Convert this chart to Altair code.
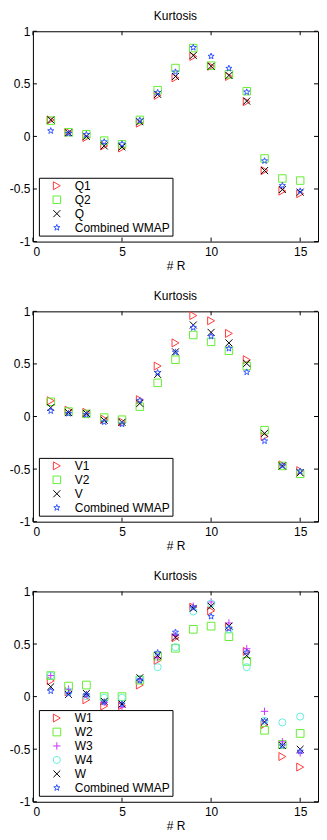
import altair as alt
import pandas as pd

# ---------------- data ----------------
R = list(range(1, 16))
X_TICKS = [0, 5, 10, 15]
Y_TICKS = [-1, -0.5, 0, 0.5, 1]

COMBINED = [0.053, 0.028, 0.018, -0.052, -0.072, 0.153, 0.417, 0.612, 0.845, 0.762, 0.647, 0.422, -0.233, -0.468, -0.52]

Q1 = [0.157, 0.04, -0.01, -0.09, -0.11, 0.126, 0.39, 0.557, 0.76, 0.667, 0.57, 0.33, -0.325, -0.52, -0.545]
Q2 = [0.15, 0.04, 0.02, -0.04, -0.075, 0.157, 0.44, 0.65, 0.84, 0.673, 0.59, 0.43, -0.21, -0.40, -0.42]
Q = [0.157, 0.035, 0.0, -0.09, -0.10, 0.14, 0.40, 0.57, 0.77, 0.667, 0.58, 0.336, -0.325, -0.505, -0.53]

V1 = [0.15, 0.06, 0.04, -0.025, -0.05, 0.16, 0.48, 0.70, 0.96, 0.91, 0.79, 0.54, -0.19, -0.46, -0.515]
V2 = [0.14, 0.047, 0.025, -0.01, -0.03, 0.094, 0.32, 0.54, 0.775, 0.71, 0.625, 0.48, -0.13, -0.47, -0.545]
V = [0.085, 0.037, 0.03, -0.035, -0.055, 0.125, 0.40, 0.615, 0.87, 0.80, 0.70, 0.505, -0.16, -0.47, -0.535]

W1 = [0.15, 0.047, -0.03, -0.09, -0.085, 0.11, 0.345, 0.56, 0.85, 0.815, 0.66, 0.43, -0.265, -0.57, -0.67]
W2 = [0.20, 0.10, 0.11, 0.0, 0.0, 0.157, 0.385, 0.46, 0.64, 0.67, 0.57, 0.335, -0.32, -0.455, -0.35]
W3 = [0.20, 0.07, 0.02, -0.055, -0.10, 0.17, 0.37, 0.58, 0.86, 0.90, 0.70, 0.455, -0.14, -0.43, -0.535]
W4 = [0.20, 0.05, 0.005, -0.01, -0.01, 0.166, 0.28, 0.47, 0.81, 0.885, 0.64, 0.28, -0.23, -0.245, -0.19]
W = [0.094, 0.02, 0.03, -0.045, -0.07, 0.18, 0.39, 0.565, 0.84, 0.86, 0.67, 0.39, -0.24, -0.465, -0.50]

# ---------------- styles ----------------
FONT = "Liberation Sans"
RED, GREEN, BLACK, BLUE = "#ff3b3b", "#66ee33", "#000000", "#3355ff"
MAGENTA, CYAN = "#cc33ff", "#66eedd"

STAR = ("M0,-1L0.235,-0.324L0.951,-0.309L0.380,0.124L0.588,0.809L0,0.4"
        "L-0.588,0.809L-0.380,0.124L-0.951,-0.309L-0.235,-0.324Z")
XMARK = "M-1,-1L1,1M-1,1L1,-1"
PLUS = "M-1,0L1,0M0,-1L0,1"

PW, PH = 286, 211
TL = 4  # inward tick length


def panel(names, series, colors, shapes, sizes):
    df = pd.DataFrame([{"R": r, "k": v, "s": n}
                       for n, vals in zip(names, series) for r, v in zip(R, vals)])
    xs = alt.Scale(domain=[0, 16], nice=False, zero=False)
    ys = alt.Scale(domain=[-1, 1], nice=False)
    xa = alt.Axis(values=X_TICKS, title="# R", format="d", labelPadding=5, titlePadding=3)
    ya = alt.Axis(values=Y_TICKS, title=None, format="~g", labelPadding=3,
                  labelExpr="replace(datum.label, '\u2212', '-')")
    leg = alt.Legend(title=None)
    pts = alt.Chart(df).mark_point(filled=False, strokeWidth=1, opacity=1).encode(
        x=alt.X("R:Q", scale=xs, axis=xa),
        y=alt.Y("k:Q", scale=ys, axis=ya),
        color=alt.Color("s:N", scale=alt.Scale(domain=names, range=colors), legend=leg),
        shape=alt.Shape("s:N", scale=alt.Scale(domain=names, range=shapes), legend=leg),
        size=alt.Size("s:N", scale=alt.Scale(domain=names, range=sizes), legend=leg),
    )
    xt = pd.DataFrame({"R": X_TICKS})
    yt = pd.DataFrame({"k": Y_TICKS})
    rule = dict(color="black", strokeWidth=1)
    bottom = alt.Chart(xt).mark_rule(**rule).encode(
        x=alt.X("R:Q", scale=xs, axis=xa), y=alt.value(PH), y2=alt.value(PH - TL))
    top = alt.Chart(xt).mark_rule(**rule).encode(
        x=alt.X("R:Q", scale=xs, axis=xa), y=alt.value(0), y2=alt.value(TL))
    left = alt.Chart(yt).mark_rule(**rule).encode(
        y=alt.Y("k:Q", scale=ys, axis=ya), x=alt.value(0), x2=alt.value(TL))
    right = alt.Chart(yt).mark_rule(**rule).encode(
        y=alt.Y("k:Q", scale=ys, axis=ya), x=alt.value(PW), x2=alt.value(PW - TL))
    return alt.layer(bottom, top, left, right, pts).properties(
        width=PW, height=PH,
        title=alt.TitleParams("Kurtosis", fontSize=12, fontWeight="normal",
                              font=FONT, color="black", offset=2),
    )


p1 = panel(["Q1", "Q2", "Q", "Combined WMAP"], [Q1, Q2, Q, COMBINED],
           [RED, GREEN, BLACK, BLUE], ["triangle-right", "square", XMARK, STAR],
           [64, 42, 18, 80])
p2 = panel(["V1", "V2", "V", "Combined WMAP"], [V1, V2, V, COMBINED],
           [RED, GREEN, BLACK, BLUE], ["triangle-right", "square", XMARK, STAR],
           [64, 42, 18, 80])
p3 = panel(["W1", "W2", "W3", "W4", "W", "Combined WMAP"], [W1, W2, W3, W4, W, COMBINED],
           [RED, GREEN, MAGENTA, CYAN, BLACK, BLUE],
           ["triangle-right", "square", PLUS, "circle", XMARK, STAR],
           [64, 42, 36, 56, 18, 80])

chart = alt.vconcat(p1, p2, p3, spacing=17, padding=0).resolve_scale(
    color="independent", shape="independent", size="independent",
    x="independent", y="independent",
).resolve_legend(
    color="independent", shape="independent", size="independent",
).configure_view(
    stroke="black", strokeWidth=1
).configure_axis(
    grid=False, ticks=False, domain=False,
    labelFont=FONT, labelFontSize=12, labelColor="black",
    titleFont=FONT, titleFontSize=12, titleFontWeight="normal", titleColor="black",
).configure_legend(
    orient="bottom-left", offset=6, strokeColor="black", fillColor="white",
    padding=2, labelFont=FONT, labelFontSize=12, labelColor="black",
    symbolOffset=10, labelOffset=12, rowPadding=2, symbolStrokeWidth=1,
    cornerRadius=0,
)

chart.save("out.html", embed_options={"renderer": "svg", "actions": False})
